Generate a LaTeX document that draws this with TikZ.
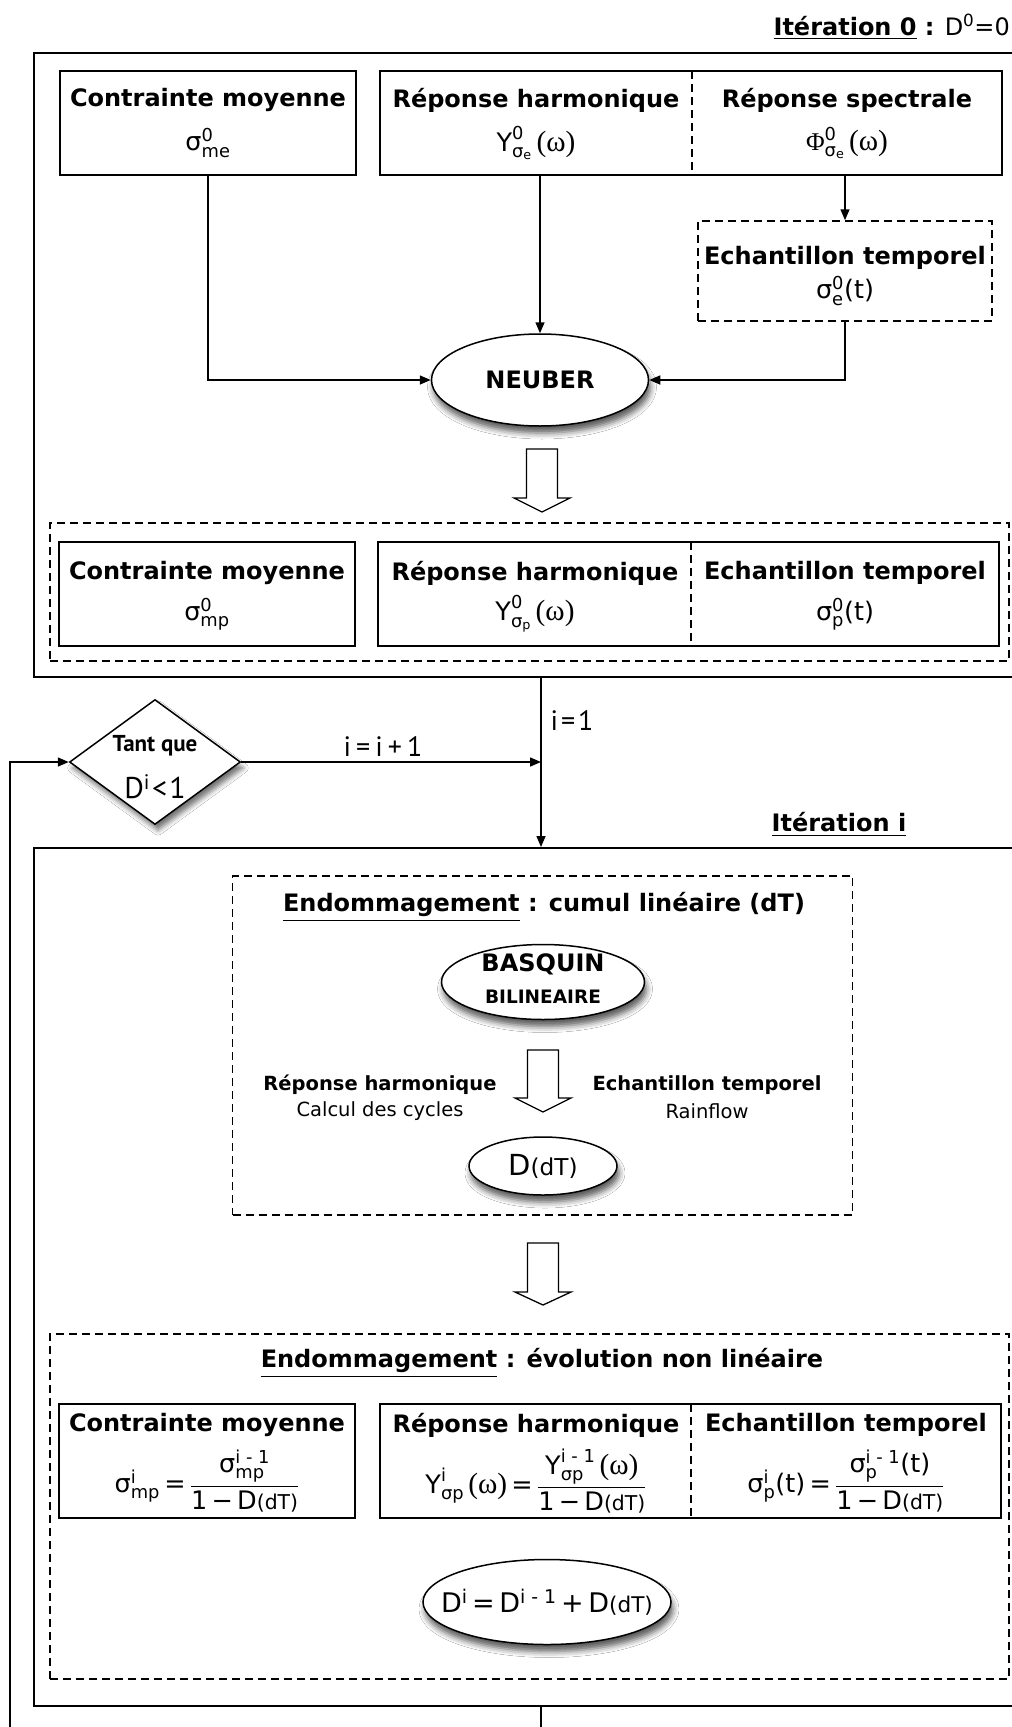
\documentclass[tikz,border=0pt]{standalone}
\usepackage{fontspec}
\usepackage{amsmath}
\usepackage{graphicx}
\setmainfont{DejaVu Sans}
\newfontfamily\condfont{PT Sans}
\newfontfamily\symfont{Liberation Serif}
\usetikzlibrary{shapes.geometric,arrows.meta,shadows.blur}

% text pieces used inside formulas
\newcommand\tx[1]{\text{#1}}
\newcommand\om{\text{\,\scalebox{1.15}{\symfont(ω)}}}
\newcommand\dts{\scalebox{0.8}{(dT)}}
\newcommand\eq{\tx{\,=\,}}

\tikzset{
  boxline/.style={draw, line width=2pt, inner sep=0pt},
  dline/.style={draw, line width=1.5pt, dash pattern=on 8pt off 5pt, inner sep=0pt},
  divider/.style={line width=1.2pt, dash pattern=on 8pt off 5pt},
  conn/.style={line width=1.5pt, -{Triangle[length=11pt,width=9pt]}},
  hd/.style={font=\fontsize{24}{27}\selectfont\bfseries, inner sep=0pt},
  hdsmall/.style={font=\fontsize{19.5}{22}\selectfont\bfseries, inner sep=0pt},
  txsmall/.style={font=\fontsize{19.5}{22}\selectfont, inner sep=0pt},
  fm/.style={font=\fontsize{25.5}{28}\selectfont, inner sep=0pt},
  cond/.style={inner sep=0pt, font=\fontsize{28}{30}\selectfont\condfont},
  oval/.style={ellipse, draw, line width=1.5pt, fill=white, inner sep=0pt,
    blur shadow={shadow xshift=2pt, shadow yshift=-7pt, shadow blur radius=6pt, shadow opacity=65}},
  hollow/.style={draw, line width=1.3pt, fill=white, line join=miter},
}

\begin{document}
\begin{tikzpicture}[x=1pt, y=-1pt]
\useasboundingbox (0,0) rectangle (1012,1727);
\clip (0,0) rectangle (1012,1727);
\fill[white] (0,0) rectangle (1012,1727);

% ---------- iteration 0 ----------
\node[anchor=east, inner sep=0pt, font=\fontsize{24}{27}\selectfont] (t0) at (1010,27)
  {{\bfseries\underline{Itération 0} :} D\textsuperscript{0}=0};
\node[boxline, minimum width=996pt, minimum height=624pt] (box0) at (532,365) {};

\node[boxline, minimum width=296pt, minimum height=104pt] (a1) at (208,123) {};
\node[boxline, minimum width=622pt, minimum height=104pt] (a2) at (691,123) {};
\draw[divider] (692,71) -- (692,175);
\node[hd] (a1t) at (208,100) {Contrainte moyenne};
\node[fm] (a1f) at (208,143) {$\tx{σ}^{\tx{0}}_{\tx{me}}$};
\node[hd] (a2t) at (536,100) {Réponse harmonique};
\node[fm] (a2f) at (536,143) {$\tx{Y}^{\tx{0}}_{\tx{σ}_{\tx{e}}}\om$};
\node[hd] (a3t) at (847,100) {Réponse spectrale};
\node[fm] (a3f) at (847,143) {$\tx{\symfont Φ}^{\tx{0}}_{\tx{σ}_{\tx{e}}}\om$};

\node[dline, minimum width=294pt, minimum height=100pt] (ech) at (845,271) {};
\node[hd] (echt) at (845,258) {Echantillon temporel};
\node[fm] (echf) at (845,291) {$\tx{σ}^{\tx{0}}_{\tx{e}}\tx{(t)}$};

\node[oval, minimum width=217pt, minimum height=92pt] (neuber) at (540,380) {};
\node[hd] (neubert) at (540,380) {NEUBER};

\draw[conn] (a1.south) |- (neuber.west);
\draw[conn] (neuber.north |- a2.south) -- (neuber.north);
\draw[conn] (ech.north |- a2.south) -- (ech.north);
\draw[conn] (ech.south) |- (neuber.east);

\draw[hollow, shift={(542,449)}] (-15.5,0) -- (15.5,0) -- (15.5,49) -- (28,49) -- (0,63)
  -- (-28,49) -- (-15.5,49) -- cycle;

\node[dline, minimum width=959pt, minimum height=138pt] (grp0) at (529.5,592) {};
\node[boxline, minimum width=296pt, minimum height=104pt] (b1) at (207,594) {};
\node[boxline, minimum width=621pt, minimum height=104pt] (b2) at (688.5,594) {};
\draw[divider] (691,542) -- (691,646);
\node[hd] (b1t) at (207,573) {Contrainte moyenne};
\node[fm] (b1f) at (207,614) {$\tx{σ}^{\tx{0}}_{\tx{mp}}$};
\node[hd] (b2t) at (535,573) {Réponse harmonique};
\node[fm] (b2f) at (535,614) {$\tx{Y}^{\tx{0}}_{\tx{σ}_{\tx{p}}}\om$};
\node[hd] (b3t) at (845,573) {Echantillon temporel};
\node[fm] (b3f) at (845,614) {$\tx{σ}^{\tx{0}}_{\tx{p}}\tx{(t)}$};

% ---------- loop ----------
\node[diamond, draw, line width=1.5pt, fill=white, minimum width=171pt, minimum height=125pt,
  inner sep=0pt, blur shadow={shadow xshift=3pt, shadow yshift=-6pt, shadow blur radius=5pt, shadow opacity=55}]
  (loop) at (155,762) {};
\node[inner sep=0pt, font=\fontsize{23}{25}\selectfont\condfont\bfseries] (loopa) at (155,746) {Tant que};
\node[inner sep=0pt, font=\fontsize{30}{32}\selectfont\condfont] (loopb) at (155,787)
  {D\textsuperscript{i}\hspace{2pt}<\hspace{2pt}1};

\coordinate (join) at (541,762);
\node[boxline, minimum width=996pt, minimum height=858pt] (boxi) at (532,1277) {};

\draw[conn] (box0.south -| join) -- (boxi.north -| join);
\draw[conn] (loop.east) -- (join);
\node[cond] (incr) at (383,747) {i\hspace{5pt}=\hspace{5pt}i\hspace{5pt}+\hspace{5pt}1};
\node[cond] (init) at (572,721) {i\hspace{3pt}=\hspace{3pt}1};

\node[inner sep=0pt, font=\fontsize{24}{27}\selectfont\bfseries] (ti) at (839,825) {\underline{Itération i}};

% ---------- iteration i ----------
\node[dline, minimum width=620pt, minimum height=339pt] (lin) at (542.5,1045.5) {};
\node[hd] (lint) at (544,907) {\underline{Endommagement} : cumul linéaire (dT)};

\node[oval, minimum width=203pt, minimum height=75pt] (basq) at (543,982) {};
\node[hd] (basqa) at (543,964) {BASQUIN};
\node[inner sep=0pt, font=\fontsize{18.5}{20}\selectfont\bfseries] (basqb) at (543,997) {BILINEAIRE};

\draw[hollow, shift={(543,1050)}] (-15.5,0) -- (15.5,0) -- (15.5,48) -- (28,48) -- (0,62)
  -- (-28,48) -- (-15.5,48) -- cycle;

\node[hdsmall] (rh) at (380,1085) {Réponse harmonique};
\node[txsmall] (rhb) at (380,1111) {Calcul des cycles};
\node[hdsmall] (et) at (707,1085) {Echantillon temporel};
\node[txsmall] (etb) at (707,1111) {Rainflow};

\node[oval, minimum width=148pt, minimum height=58pt] (ddt) at (543,1166) {};
\node[inner sep=0pt, font=\fontsize{29}{31}\selectfont] (ddtt) at (543,1166) {D\dts};

\draw[hollow, shift={(543,1243)}] (-15.5,0) -- (15.5,0) -- (15.5,49) -- (28,49) -- (0,62)
  -- (-28,49) -- (-15.5,49) -- cycle;

\node[dline, minimum width=959pt, minimum height=345pt] (nlin) at (529.5,1506.5) {};
\node[hd] (nlint) at (542,1363) {\underline{Endommagement} : évolution non linéaire};

\node[boxline, minimum width=296pt, minimum height=114pt] (e1) at (207,1461) {};
\node[boxline, minimum width=621pt, minimum height=114pt] (e2) at (690.5,1461) {};
\draw[divider] (691,1404) -- (691,1518);
\node[hd] (e1t) at (207,1425) {Contrainte moyenne};
\node[fm] (e1f) at (207,1481)
  {$\tx{σ}^{\tx{i}}_{\tx{mp}}\eq\dfrac{\tx{σ}^{\tx{i - 1}}_{\tx{mp}}}{\tx{1\,−\,D\dts}}$};
\node[hd] (e2t) at (536,1425) {Réponse harmonique};
\node[fm] (e2f) at (536,1481)
  {$\tx{Y}^{\tx{i}}_{\tx{σp}}\om\eq\dfrac{\tx{Y}^{\tx{i - 1}}_{\tx{σp}}\om}{\tx{1\,−\,D\dts}}$};
\node[hd] (e3t) at (846,1425) {Echantillon temporel};
\node[fm] (e3f) at (846,1481)
  {$\tx{σ}^{\tx{i}}_{\tx{p}}\tx{(t)}\eq\dfrac{\tx{σ}^{\tx{i - 1}}_{\tx{p}}\tx{(t)}}{\tx{1\,−\,D\dts}}$};

\node[oval, minimum width=248pt, minimum height=85pt] (dsum) at (547,1602) {};
\node[inner sep=0pt, font=\fontsize{27}{29}\selectfont] (dsumt) at (547,1602)
  {D\textsuperscript{i}\,=\,D\textsuperscript{i - 1}\,+\,D\dts};

% feedback to the loop test
\coordinate (low) at (541,1745);
\coordinate (lowleft) at (10,1745);
\draw[conn] (boxi.south -| low) -- (low) -- (lowleft) |- (loop.west);
\end{tikzpicture}
\end{document}
